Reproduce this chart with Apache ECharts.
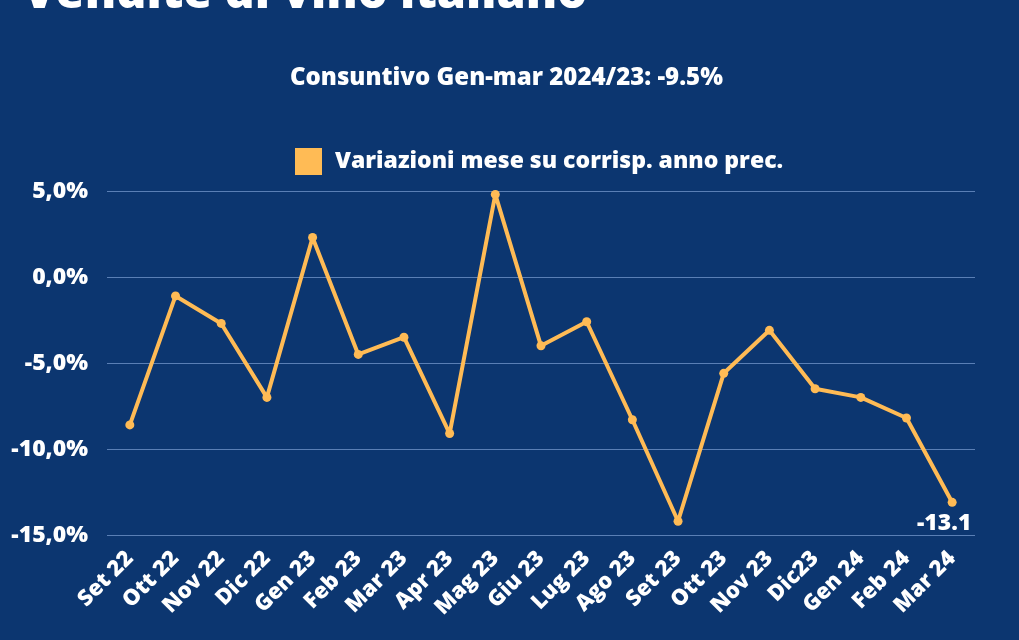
<!DOCTYPE html>
<html><head><meta charset="utf-8">
<script src="https://cdn.jsdelivr.net/npm/echarts@6/dist/echarts.min.js"></script>
<style>html,body{margin:0;padding:0;background:#0c3670;}#c{width:1019px;height:640px;}</style>
</head><body><div id="c"></div>
<script>
const categories = ['Set 22','Ott 22','Nov 22','Dic 22','Gen 23','Feb 23','Mar 23','Apr 23','Mag 23','Giu 23','Lug 23','Ago 23','Set 23','Ott 23','Nov 23','Dic23','Gen 24','Feb 24','Mar 24'];
const values = [-8.6,-1.1,-2.7,-7.0,2.3,-4.5,-3.5,-9.1,4.8,-4.0,-2.6,-8.3,-14.2,-5.6,-3.1,-6.5,-7.0,-8.2,-13.1];
const titleText = 'Vendite di vino italiano';
const subtitleText = 'Consuntivo Gen-mar 2024/23: -9.5%';
const seriesName = 'Variazioni mese su corrisp. anno prec.';

const chart = echarts.init(document.getElementById('c'));
const font = '"Open Sans", sans-serif';
const W = 800;
chart.setOption({
  backgroundColor: '#0c3670',
  textStyle: {fontFamily: font},
  title: [
    {text: titleText, left: 18, top: -34, textStyle: {color: '#fff', fontSize: 47, fontWeight: W, fontFamily: font}},
    {text: subtitleText, left: 285, top: 61, textStyle: {color: '#fff', fontSize: 24, fontWeight: W, fontFamily: font}}
  ],
  legend: {
    top: 143, left: 290, itemWidth: 27, itemHeight: 27, icon: 'rect', itemGap: 13,
    textStyle: {color: '#fff', fontSize: 23, fontWeight: W, fontFamily: font, padding: [0, 0, 0, 8]},
    data: [{name: seriesName, icon: 'rect', itemStyle: {color: '#ffbb55'}}]
  },
  grid: {left: 107, right: 44, top: 191, bottom: 105},
  xAxis: {
    type: 'category', data: categories, boundaryGap: true,
    axisLine: {show: false}, axisTick: {show: false},
    axisLabel: {color: '#fff', fontSize: 22, fontWeight: W, rotate: 45, interval: 0, margin: 20, fontFamily: font}
  },
  yAxis: {
    type: 'value', min: -15, max: 5, interval: 5,
    axisLine: {show: false}, axisTick: {show: false},
    splitLine: {lineStyle: {color: '#5a7fb5', width: 1}},
    axisLabel: {color: '#fff', fontSize: 23, fontWeight: W, margin: 19, fontFamily: font,
      formatter: v => v.toFixed(1).replace('.', ',') + '%'}
  },
  series: [{
    name: seriesName, type: 'line', data: values,
    symbol: 'circle', symbolSize: 9,
    lineStyle: {color: '#ffbb55', width: 4},
    itemStyle: {color: '#ffbb55'},
    label: {show: true, position: 'bottom', distance: 5, offset: [-8, 0], color: '#fff', fontSize: 23, fontWeight: W, fontFamily: font,
      formatter: p => p.dataIndex === values.length - 1 ? String(p.value) : ''}
  }]
});
</script></body></html>
